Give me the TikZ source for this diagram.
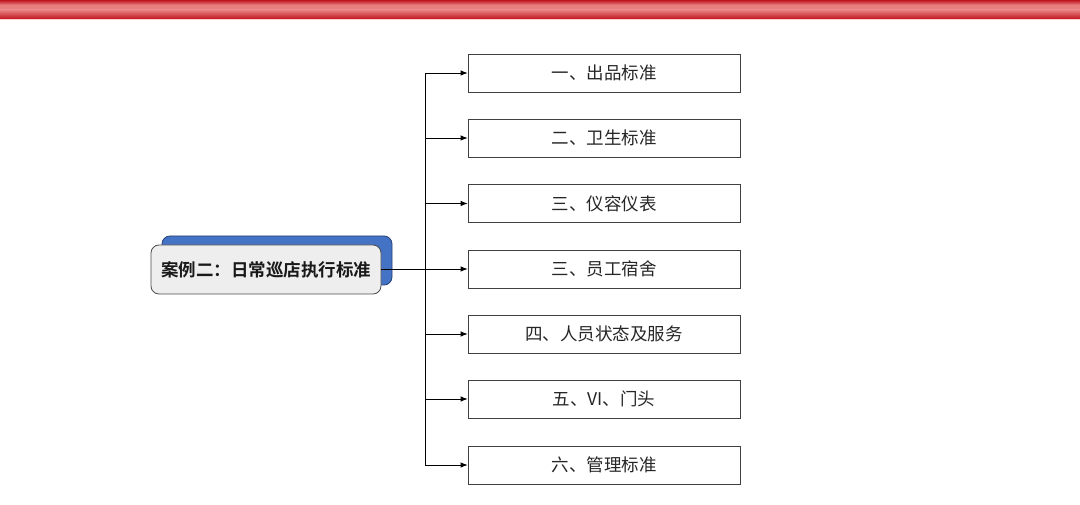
\documentclass[tikz,border=0pt]{standalone}
\usepackage{fontspec}
\newfontfamily\cjk{Noto Sans CJK SC}
\newfontfamily\cjkb{Noto Sans CJK SC Bold}
\usetikzlibrary{arrows.meta}
\definecolor{bandred}{HTML}{C0141E}
\definecolor{bandlight}{HTML}{E88080}
\definecolor{backblue}{HTML}{4472C4}
\definecolor{frontgray}{HTML}{EEEEEE}
\tikzset{
  branch/.style={draw=black!75, line width=0.8pt, minimum width=272pt, minimum height=38pt, inner sep=0pt, font=\cjk\fontsize{17.5}{20}\selectfont, text=black!85},
  conn/.style={line width=0.8pt, -{Latex[length=7pt,width=5.5pt]}},
  mainbox/.style={draw=black!70, line width=0.8pt, rounded corners=8pt, minimum width=230pt, minimum height=49pt, inner sep=0pt},
}
\begin{document}
\begin{tikzpicture}[x=1pt,y=-1pt]
\useasboundingbox (0,0) rectangle (1080,505);
% red band
\shade[top color=bandred, bottom color=bandlight, middle color=bandlight] (0,0) rectangle (1080,10);
\shade[top color=bandlight, bottom color=bandred] (0,10) rectangle (1080,19);
\fill[red!20] (0,19) rectangle (1080,20.5);
% main node
\node[mainbox, fill=backblue, draw=backblue!60!black] (mainback) at (277,260.5) {};
\node[mainbox, fill=frontgray, font=\cjkb\fontsize{17.5}{20}\selectfont, text=black!90] (main) at (266,269.5) {案例二：日常巡店执行标准};
% branches
\node[branch] (b1) at (604,73) {一、出品标准};
\node[branch] (b2) at (604,138) {二、卫生标准};
\node[branch] (b3) at (604,203.5) {三、仪容仪表};
\node[branch] (b4) at (604,269) {三、员工宿舍};
\node[branch] (b5) at (604,334) {四、人员状态及服务};
\node[branch] (b6) at (604,399) {五、VI、门头};
\node[branch] (b7) at (604,465) {六、管理标准};
\coordinate (trunk) at (425,269);
\draw[line width=0.8pt] (main.east |- trunk) -- (trunk);
\draw[line width=0.8pt] (trunk |- b1.west) -- (trunk |- b7.west);
\foreach \b in {b1,b2,b3,b4,b5,b6,b7}
  \draw[conn] (trunk |- \b.west) -- (\b.west);
\end{tikzpicture}
\end{document}
